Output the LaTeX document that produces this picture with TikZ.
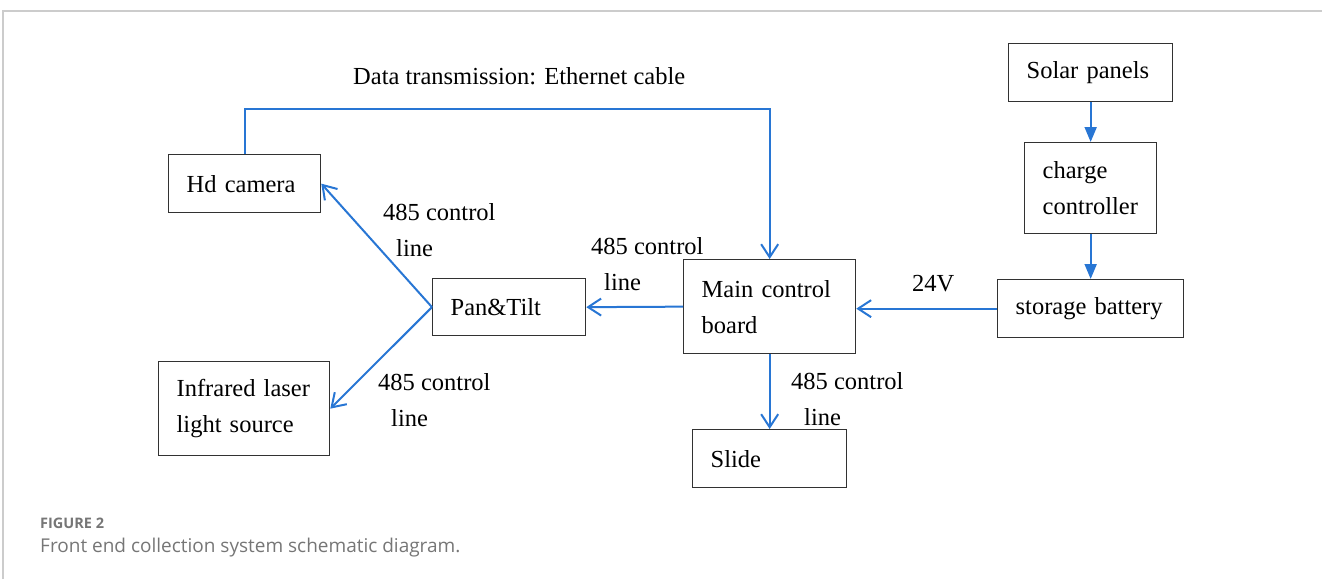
\documentclass[tikz,border=0pt]{standalone}
\usepackage{fontspec}
\setmainfont{Liberation Serif}
\newfontfamily\capfont{Open Sans}
\usetikzlibrary{arrows.meta}
\definecolor{linkblue}{RGB}{40,118,212}
\definecolor{capgray}{RGB}{118,118,118}
\definecolor{framegray}{RGB}{204,204,204}
\definecolor{boxline}{RGB}{50,50,50}
\hyphenpenalty=10000
\newcommand{\ctrlline}{485 control\\\hspace*{13pt}line}

\begin{document}
\begin{tikzpicture}
    [x=1pt, y=-1pt,
     every node/.style={font=\fontsize{24.5}{36}\selectfont},
     unit/.style={draw=boxline, line width=1.3pt, anchor=north west, inner xsep=18pt, inner ysep=0pt, align=left},
     lbl/.style={anchor=north west, inner sep=0pt, align=left},
     link/.style={draw=linkblue, line width=2pt, -{Straight Barb[length=13pt, width=17pt]}},
     feed/.style={draw=linkblue, line width=2pt, -{Triangle[length=15pt, width=12pt]}}]

    \useasboundingbox (0,0) rectangle (1322,579);
    \draw[framegray, line width=1.5pt] (3,579) -- (3,11) -- (1322,11);

    \node[unit, text width=116pt, minimum height=58pt] (cam) at (168,154) {Hd camera};
    \node[unit, text width=117pt, minimum height=57pt] (pt) at (432,278) {Pan\&Tilt};
    \node[unit, text width=135pt, minimum height=94pt] (ir) at (158,361) {Infrared laser\\light source};
    \node[unit, text width=136pt, minimum height=94pt] (mcb) at (683,259) {Main control\\board};
    \node[unit, text width=118pt, minimum height=58pt] (slide) at (692,429) {Slide};
    \node[unit, text width=128pt, minimum height=58pt] (solar) at (1008,43) {Solar panels};
    \node[unit, text width=96pt, minimum height=91pt] (cc) at (1024,142) {charge\\controller};
    \node[unit, text width=150pt, minimum height=58pt] (bat) at (997,279) {storage battery};

    \coordinate (eth) at (500,109);
    \node[lbl] (ethlbl) at (353,67) {Data transmission: Ethernet cable};
    \node[lbl] (l1) at (383,203) {\ctrlline};
    \node[lbl] (l2) at (591,237) {\ctrlline};
    \node[lbl] (l3) at (378,373) {\ctrlline};
    \node[lbl] (l4) at (791,372) {\ctrlline};
    \node[lbl] (volt) at (912,275) {24V};

    \draw[link] (cam.north) |- (eth) -| (mcb.north);
    \draw[link] (pt.west) -- (cam.east);
    \draw[link] (pt.west) -- (ir.east);
    \draw[link] (mcb.west) -- (pt.east);
    \draw[link] (mcb.south) -- (slide.north);
    \draw[link] (bat.west) -- (bat.west -| mcb.east);
    \draw[feed] (solar.south) -- (cc.north);
    \draw[feed] (cc.south) -- (bat.north);

    \node[lbl, font=\capfont\bfseries\fontsize{14.5}{16}\selectfont, text=capgray] (fig) at (40,518) {FIGURE 2};
    \node[lbl, font=\capfont\fontsize{19}{22}\selectfont, text=capgray] (cap) at (40,538) {Front end collection system schematic diagram.};
\end{tikzpicture}
\end{document}
